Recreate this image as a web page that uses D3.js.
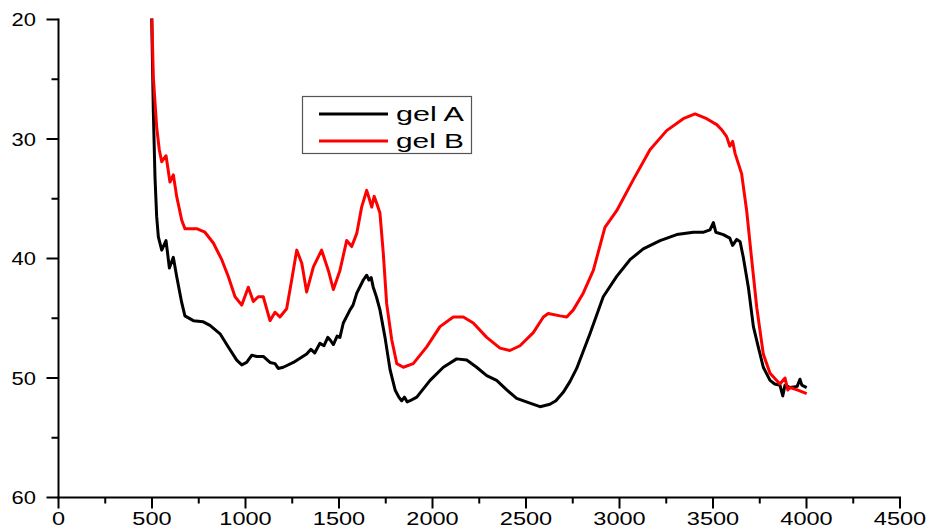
<!DOCTYPE html>
<html>
<head>
<meta charset="utf-8">
<script src="https://cdn.jsdelivr.net/npm/d3@7/dist/d3.min.js"></script>
<style>
  html, body { margin: 0; padding: 0; background: #fff; }
  svg { display: block; }
  text { font-family: "Liberation Sans", Arial, sans-serif; fill: #000; }
</style>
</head>
<body>
<svg id="chart" width="929" height="529"></svg>
<script>
// Wavenumber (x) and signal (y) samples for each gel
const gelA_x = [498,507,516,525,534,552,575,593,614,632,659,676,721,774,810,864,908,953,980,1006,1033,1060,1095,1131,1158,1175,1202,1256,1327,1350,1370,1398,1420,1440,1452,1470,1490,1505,1523,1559,1575,1595,1630,1648,1660,1672,1683,1700,1719,1746,1773,1800,1820,1835,1850,1865,1880,1916,1987,2058,2129,2183,2236,2290,2343,2397,2450,2521,2575,2628,2660,2699,2735,2771,2842,2913,2985,3056,3127,3217,3306,3395,3450,3484,3502,3515,3555,3590,3605,3627,3645,3662,3689,3716,3742,3769,3805,3830,3858,3873,3885,3912,3950,3965,3975,4001];
const gelA_y = [19.6,27.6,33.2,36.5,38.2,39.3,38.5,40.8,39.9,41.5,43.7,44.8,45.2,45.3,45.6,46.3,47.4,48.5,48.9,48.7,48.1,48.2,48.2,48.7,48.8,49.2,49.1,48.7,48.0,47.6,47.9,47.1,47.3,46.6,46.8,47.2,46.5,46.6,45.4,44.3,43.9,42.9,41.8,41.4,41.8,41.6,42.4,43.2,44.3,46.6,49.3,51.0,51.6,51.9,51.6,52.0,51.9,51.6,50.2,49.1,48.4,48.5,49.1,49.8,50.2,51.0,51.7,52.1,52.4,52.2,51.9,51.2,50.3,49.2,46.3,43.2,41.5,40.1,39.2,38.5,38.0,37.8,37.8,37.6,37.0,37.8,38.0,38.3,38.9,38.4,38.6,39.9,42.4,45.7,47.4,49.1,50.2,50.5,50.6,51.5,50.6,50.8,50.7,50.1,50.6,50.8];

const gelB_x = [499,507,525,539,552,575,596,614,632,659,676,739,783,828,873,908,944,980,1015,1042,1068,1095,1131,1158,1184,1220,1247,1274,1301,1327,1363,1407,1443,1470,1505,1541,1568,1595,1621,1648,1662,1675,1688,1702,1719,1737,1755,1782,1809,1844,1897,1969,2040,2111,2165,2218,2290,2361,2414,2468,2539,2593,2619,2682,2718,2753,2806,2860,2922,2985,3074,3163,3252,3341,3404,3466,3520,3545,3573,3590,3605,3618,3653,3680,3707,3734,3769,3805,3858,3885,3900,3912,3950,4001];
const gelB_y = [19.6,24.8,29.0,30.9,31.9,31.4,33.6,33.0,34.8,36.8,37.5,37.5,37.8,38.7,40.1,41.5,43.2,43.9,42.4,43.6,43.2,43.2,45.2,44.5,44.9,44.2,41.8,39.3,40.4,42.8,40.7,39.3,41.0,42.6,41.0,38.5,39.0,37.9,35.7,34.3,35.0,35.7,34.8,35.4,36.2,39.6,43.8,46.8,48.8,49.1,48.8,47.4,45.7,44.9,44.9,45.4,46.6,47.5,47.7,47.3,46.2,44.9,44.6,44.8,44.9,44.3,42.9,41.0,37.4,36.0,33.4,30.9,29.3,28.3,27.9,28.3,28.8,29.2,29.8,30.6,30.2,31.2,32.9,36.0,40.1,44.1,48.0,49.6,50.5,50.0,51.0,50.8,51.0,51.3];

const xTicks = [0,500,1000,1500,2000,2500,3000,3500,4000,4500];
const xMinor = [250,750,1250,1750,2250,2750,3250,3750,4250];
const yTicks = [20,30,40,50,60];
const yMinor = [25,35,45,55];

const seriesNames = ["gel A", "gel B"];
const seriesColors = ["#000000", "#ff0000"];

const svg = d3.select("#chart");
const plotLeft = 58.5, plotRight = 900, plotTop = 19.5, plotBottom = 497.5;

const x = d3.scaleLinear().domain([0, 4500]).range([plotLeft, plotRight]);
const y = d3.scaleLinear().domain([20, 60]).range([plotTop, plotBottom]);

// clip the traces to the plotting area
svg.append("clipPath").attr("id", "plotArea")
  .append("rect")
  .attr("x", plotLeft).attr("y", plotTop - 1)
  .attr("width", plotRight - plotLeft).attr("height", plotBottom - plotTop + 1);

const series = [
  d3.zip(gelA_x, gelA_y),
  d3.zip(gelB_x, gelB_y)
];

const line = d3.line().x(d => x(d[0])).y(d => y(d[1]));

const traces = svg.append("g").attr("clip-path", "url(#plotArea)");
series.forEach((s, i) => {
  traces.append("path")
    .datum(s)
    .attr("d", line)
    .attr("fill", "none")
    .attr("stroke", seriesColors[i])
    .attr("stroke-width", 3)
    .attr("stroke-linejoin", "round");
});

// axes
const axisColor = "#000";
const ax = svg.append("g");

// bottom axis
ax.append("line")
  .attr("x1", x(0) - 1).attr("x2", x(4500) + 1)
  .attr("y1", plotBottom).attr("y2", plotBottom)
  .attr("stroke", axisColor).attr("stroke-width", 2);
ax.selectAll(".xmaj").data(xTicks).enter().append("line")
  .attr("x1", d => x(d)).attr("x2", d => x(d))
  .attr("y1", plotBottom).attr("y2", plotBottom + 11)
  .attr("stroke", axisColor).attr("stroke-width", 2);
ax.selectAll(".xmin").data(xMinor).enter().append("line")
  .attr("x1", d => x(d)).attr("x2", d => x(d))
  .attr("y1", plotBottom).attr("y2", plotBottom + 6)
  .attr("stroke", axisColor).attr("stroke-width", 2);
ax.selectAll(".xlab").data(xTicks).enter().append("text")
  .attr("x", d => x(d))
  .attr("y", 525)
  .attr("text-anchor", "middle")
  .attr("font-size", 17.5)
  .attr("textLength", d => String(d).length * 13.1)
  .attr("lengthAdjust", "spacingAndGlyphs")
  .text(d => d);

// left axis
ax.append("line")
  .attr("x1", plotLeft).attr("x2", plotLeft)
  .attr("y1", plotTop - 1).attr("y2", plotBottom + 1)
  .attr("stroke", axisColor).attr("stroke-width", 2);
ax.selectAll(".ymaj").data(yTicks).enter().append("line")
  .attr("x1", plotLeft - 12).attr("x2", plotLeft)
  .attr("y1", d => y(d)).attr("y2", d => y(d))
  .attr("stroke", axisColor).attr("stroke-width", 2);
ax.selectAll(".ymin").data(yMinor).enter().append("line")
  .attr("x1", plotLeft - 7).attr("x2", plotLeft)
  .attr("y1", d => y(d)).attr("y2", d => y(d))
  .attr("stroke", axisColor).attr("stroke-width", 2);
ax.selectAll(".ylab").data(yTicks).enter().append("text")
  .attr("x", 36)
  .attr("y", d => y(d) + 6.5)
  .attr("text-anchor", "end")
  .attr("font-size", 19)
  .attr("textLength", d => String(d).length * 12.2)
  .attr("lengthAdjust", "spacingAndGlyphs")
  .text(d => d);

// legend
const lg = svg.append("g");
lg.append("rect")
  .attr("x", 302.5).attr("y", 96.5)
  .attr("width", 169).attr("height", 57)
  .attr("fill", "#fff")
  .attr("stroke", "#555").attr("stroke-width", 1.2);
seriesNames.forEach((name, i) => {
  const ly = 114 + i * 27;
  lg.append("line")
    .attr("x1", 319).attr("x2", 388)
    .attr("y1", ly).attr("y2", ly)
    .attr("stroke", seriesColors[i]).attr("stroke-width", 3);
  lg.append("text")
    .attr("x", 396).attr("y", ly + 7)
    .attr("font-size", 20)
    .attr("textLength", 68)
    .attr("lengthAdjust", "spacingAndGlyphs")
    .text(name);
});
</script>
</body>
</html>
